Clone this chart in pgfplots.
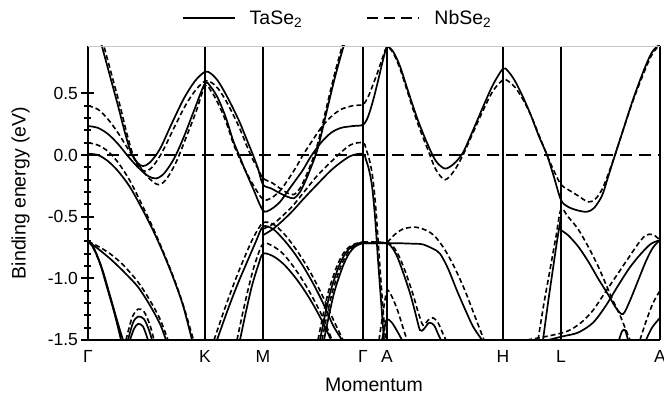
\documentclass[border=0pt]{standalone}
\usepackage{fontspec}
\setmainfont{Liberation Sans}
\usepackage{pgfplots}
\pgfplotsset{compat=1.18}
\pgfplotsset{
  ta/.style={black, line width=1.7pt, smooth, tension=0.5},
  nb/.style={black, line width=1.6pt, smooth, tension=0.5, dash pattern=on 5pt off 3pt},
}
\begin{document}
\begin{tikzpicture}[font=\fontsize{17.5}{20}\selectfont]
\useasboundingbox (0,0) rectangle (664pt,401pt);
\begin{axis}[
  at={(88pt,61pt)}, anchor=south west,
  width=572pt, height=294pt, scale only axis,
  xmin=0, xmax=572, ymin=-1.5, ymax=0.884,
  axis x line*=bottom, axis y line*=left,
  axis line style={-, black, line width=2.2pt},
  xtick={0,117,175,275,299,415,473,572},
  xticklabels={Γ,K,M,Γ,A,H,L,A},
  xtick style={draw=none},
  xmajorgrids, grid style={black, line width=2pt},
  ytick={-1.5,-1,-0.5,0,0.5},
  yticklabels={-1.5,-1.0,-0.5,0.0,0.5},
  minor y tick num=4,
  tick align=center,
  major tick length=13pt, minor tick length=7pt,
  ytick style={black, line width=2pt},
  ylabel={Binding energy (eV)},
  xlabel={Momentum},
  every axis y label/.style={at={(axis description cs:-0.118,0.5)}, rotate=90, anchor=center, font=\fontsize{19.5}{22}\selectfont},
  every axis x label/.style={at={(axis description cs:0.5,-0.153)}, anchor=center, font=\fontsize{19.5}{22}\selectfont},
  legend columns=2,
  legend style={at={(0.436,1)}, anchor=center, yshift=28pt, draw=none, fill=none,
    font=\fontsize{19.5}{22}\selectfont,
    /tikz/every odd column/.append style={column sep=12pt},
    /tikz/every even column/.append style={column sep=62pt}},
  legend image code/.code={\draw[#1] (0pt,0pt) -- (52pt,0pt);},
]
\addlegendimage{black, line width=2.2pt}
\addlegendentry{TaSe\textsubscript{2}}
\addlegendimage{black, line width=2.2pt, dash pattern=on 10.5pt off 6.5pt}
\addlegendentry{NbSe\textsubscript{2}}

% Fermi level
\addplot[black, line width=2.4pt, dash pattern=on 12pt off 7pt] coordinates {(0,0) (572,0)};

% ---- upper bands ----
% steep Se band Gamma-K-M-Gamma
\addplot[ta] coordinates {(8,1.06)(14,0.88)(22,0.64)(30,0.40)(37,0.18)(43,0.02)(49,-0.06)(55,-0.09)(62,-0.06)(72,0.05)(84,0.26)(96,0.46)(107,0.6)(117,0.675)(123,0.66)(130,0.6)(138,0.49)(145,0.38)(152,0.26)(159,0.12)(165,0.0)(170,-0.11)(175,-0.24)(183,-0.27)(192,-0.31)(200,-0.34)(206,-0.35)(212,-0.3)(218,-0.2)(224,-0.08)(230,0.06)(238,0.33)(246,0.6)(252,0.78)(257,0.92)};
\addplot[nb] coordinates {(10,1.06)(16,0.88)(24,0.64)(32,0.40)(39,0.17)(45,0.0)(51,-0.1)(57,-0.13)(64,-0.1)(74,0.02)(86,0.22)(98,0.41)(108,0.53)(117,0.6)(123,0.59)(130,0.54)(138,0.44)(145,0.33)(152,0.21)(159,0.07)(165,-0.04)(170,-0.11)(175,-0.19)(183,-0.22)(192,-0.27)(200,-0.31)(206,-0.32)(212,-0.27)(218,-0.17)(224,-0.05)(230,0.1)(238,0.37)(246,0.64)(252,0.82)(256,0.94)};

% d band, full path
\addplot[ta] coordinates {(0,0.235)(10,0.22)(20,0.17)(30,0.09)(40,-0.01)(50,-0.1)(60,-0.17)(68,-0.19)(76,-0.15)(86,-0.03)(96,0.15)(106,0.36)(117,0.58)(123,0.55)(130,0.46)(138,0.3)(145,0.12)(150,0.02)(157,-0.12)(165,-0.27)(175,-0.45)(183,-0.44)(192,-0.38)(200,-0.29)(208,-0.2)(215,-0.12)(223,-0.01)(233,0.1)(243,0.18)(253,0.22)(265,0.235)(275,0.245)(280,0.31)(285,0.44)(290,0.6)(295,0.77)(299,0.875)(305,0.84)(312,0.72)(320,0.52)(330,0.28)(340,0.08)(348,-0.05)(357,-0.11)(366,-0.07)(375,0.02)(385,0.2)(395,0.39)(405,0.57)(415,0.70)(420,0.68)(427,0.6)(435,0.47)(443,0.32)(451,0.15)(459,0.0)(466,-0.18)(473,-0.365)(480,-0.42)(490,-0.45)(499,-0.46)(506,-0.43)(514,-0.33)(520,-0.18)(527,0.0)(535,0.2)(545,0.45)(555,0.67)(563,0.82)(569,0.88)(572,0.89)};
\addplot[nb] coordinates {(0,0.40)(10,0.37)(20,0.29)(30,0.18)(40,0.05)(50,-0.07)(60,-0.18)(70,-0.24)(78,-0.2)(88,-0.06)(98,0.14)(108,0.35)(117,0.56)(123,0.52)(130,0.42)(138,0.27)(145,0.1)(150,0.0)(157,-0.12)(165,-0.24)(175,-0.36)(183,-0.35)(192,-0.29)(200,-0.2)(208,-0.1)(215,0.0)(223,0.1)(233,0.22)(243,0.31)(253,0.37)(265,0.40)(275,0.41)(280,0.47)(285,0.57)(290,0.68)(295,0.80)(299,0.875)(305,0.83)(312,0.7)(320,0.5)(330,0.25)(340,0.04)(348,-0.12)(357,-0.2)(366,-0.13)(375,0.0)(385,0.18)(395,0.36)(405,0.52)(415,0.61)(420,0.6)(427,0.55)(435,0.45)(443,0.32)(451,0.16)(459,0.0)(466,-0.13)(473,-0.24)(480,-0.28)(490,-0.33)(500,-0.38)(507,-0.36)(514,-0.28)(520,-0.16)(527,0.0)(535,0.2)(545,0.44)(555,0.65)(563,0.8)(569,0.87)(572,0.88)};

% second d band
\addplot[ta] coordinates {(0,0.01)(10,0.0)(20,-0.05)(30,-0.13)(42,-0.26)(55,-0.45)(65,-0.61)(75,-0.79)(85,-0.99)(95,-1.22)(104,-1.5)};
\addplot[nb] coordinates {(0,0.10)(10,0.08)(20,0.03)(30,-0.06)(42,-0.21)(55,-0.42)(65,-0.59)(75,-0.78)(85,-0.98)(95,-1.21)(105.5,-1.5)};
\addplot[ta] coordinates {(175,-0.65)(185,-0.6)(195,-0.53)(205,-0.45)(215,-0.36)(229,-0.24)(245,-0.11)(262,-0.01)(275,0.01)(278,-0.04)(281,-0.12)(284,-0.25)(287,-0.5)(290,-0.85)(293,-1.18)(296,-1.5)};
\addplot[nb] coordinates {(175,-0.6)(185,-0.56)(195,-0.49)(205,-0.41)(215,-0.31)(229,-0.17)(245,-0.04)(262,0.08)(275,0.10)(278,0.05)(282,-0.06)(285,-0.2)(288,-0.45)(291,-0.8)(294,-1.14)(297.5,-1.5)};

% ---- lower bands, Gamma-K ----
\addplot[ta] coordinates {(0,-0.70)(10,-0.76)(22,-0.84)(35,-0.94)(50,-1.07)(62,-1.22)(72,-1.37)(78,-1.5)};
\addplot[nb] coordinates {(0,-0.70)(10,-0.74)(22,-0.80)(35,-0.89)(50,-1.03)(62,-1.18)(72,-1.33)(80,-1.5)};
\addplot[ta] coordinates {(0,-0.70)(5,-0.74)(12,-0.88)(20,-1.1)(27,-1.3)(33,-1.5)};
\addplot[ta] coordinates {(0,-0.70)(6,-0.76)(14,-0.92)(22,-1.14)(29,-1.34)(35,-1.5)};
\addplot[nb] coordinates {(0,-0.70)(5,-0.75)(13,-0.9)(21,-1.12)(28,-1.32)(34,-1.5)};
\addplot[nb] coordinates {(38,-1.5)(44,-1.32)(50,-1.25)(56,-1.27)(62,-1.38)(66,-1.5)};
\addplot[ta] coordinates {(40,-1.5)(45,-1.36)(50,-1.31)(56,-1.33)(61,-1.42)(64,-1.5)};
\addplot[ta] coordinates {(42,-1.5)(46,-1.41)(50,-1.37)(55,-1.39)(60,-1.5)};

% ---- lower bands, K-M-Gamma ----
\addplot[ta] coordinates {(129,-1.5)(140,-1.25)(150,-1.04)(160,-0.85)(168,-0.7)(175,-0.58)(185,-0.6)(195,-0.68)(205,-0.78)(215,-0.9)(225,-1.04)(235,-1.2)(245,-1.38)(254,-1.5)};
\addplot[nb] coordinates {(126,-1.5)(137,-1.24)(147,-1.02)(157,-0.82)(166,-0.66)(175,-0.55)(185,-0.56)(195,-0.63)(205,-0.73)(215,-0.85)(225,-0.99)(235,-1.15)(245,-1.33)(255,-1.5)};
\addplot[ta] coordinates {(152,-1.5)(158,-1.27)(164,-1.06)(170,-0.9)(175,-0.8)(185,-0.82)(195,-0.88)(205,-0.97)(215,-1.08)(225,-1.21)(235,-1.36)(243,-1.5)};
\addplot[nb] coordinates {(149,-1.5)(155,-1.27)(161,-1.06)(167,-0.88)(175,-0.72)(185,-0.74)(195,-0.8)(205,-0.9)(215,-1.02)(225,-1.16)(235,-1.32)(244,-1.5)};
\addplot[ta] coordinates {(232,-1.5)(237,-1.3)(242,-1.12)(247,-0.99)(252,-0.88)(258,-0.79)(264,-0.74)(270,-0.72)(275,-0.715)};
\addplot[ta] coordinates {(236,-1.5)(241,-1.3)(246,-1.12)(251,-0.99)(256,-0.88)(261,-0.8)(266,-0.75)(271,-0.725)(275,-0.715)};
\addplot[nb] coordinates {(230,-1.5)(235,-1.3)(240,-1.12)(245,-0.99)(250,-0.88)(256,-0.79)(262,-0.74)(269,-0.715)(275,-0.705)};
\addplot[nb] coordinates {(234,-1.5)(239,-1.3)(244,-1.12)(249,-0.99)(254,-0.88)(260,-0.79)(266,-0.74)(271,-0.715)(275,-0.705)};

% ---- lower bands, Gamma-A-H ----
\addplot[ta] coordinates {(275,-0.715)(287,-0.715)(299,-0.715)(310,-0.715)(320,-0.718)(328,-0.72)(335,-0.725)(345,-0.76)(352,-0.80)(360,-0.92)(369,-1.1)(377,-1.25)(385,-1.39)(394,-1.5)};
\addplot[nb] coordinates {(275,-0.705)(287,-0.705)(299,-0.705)(306,-0.65)(315,-0.6)(327,-0.585)(338,-0.61)(347,-0.66)(357,-0.77)(367,-0.92)(377,-1.1)(387,-1.31)(396,-1.5)};
\addplot[ta] coordinates {(275,-0.715)(287,-0.715)(299,-0.715)(304,-0.75)(309,-0.82)(315,-0.95)(322,-1.12)(327,-1.27)(332,-1.42)(336,-1.41)(341,-1.36)(346,-1.38)(350,-1.45)(353,-1.5)};
\addplot[nb] coordinates {(299,-0.705)(305,-0.74)(311,-0.82)(318,-0.96)(325,-1.13)(330,-1.27)(335,-1.38)(340,-1.34)(345,-1.32)(350,-1.36)(355,-1.45)(358,-1.5)};
\addplot[nb] coordinates {(291,-1.5)(295,-1.28)(299,-1.1)(304,-1.15)(310,-1.27)(315,-1.4)(319,-1.5)};
\addplot[ta] coordinates {(294,-1.5)(297,-1.38)(299,-1.33)(304,-1.36)(310,-1.44)(314,-1.5)};

% ---- lower bands, H-L-A ----
\addplot[ta] coordinates {(455,-1.5)(460,-1.2)(465,-0.92)(469,-0.7)(473,-0.5)};
\addplot[nb] coordinates {(450,-1.5)(456,-1.2)(462,-0.93)(468,-0.66)(473,-0.44)(480,-0.5)(490,-0.6)(500,-0.74)(510,-0.9)(518,-1.05)(525,-1.18)(532,-1.3)(538,-1.42)(542,-1.5)};
\addplot[ta] coordinates {(473,-0.61)(480,-0.65)(490,-0.74)(500,-0.86)(510,-1.0)(520,-1.13)(528,-1.24)(535,-1.29)(542,-1.18)(550,-1.02)(558,-0.86)(565,-0.75)(572,-0.69)};
\addplot[ta] coordinates {(460,-1.5)(475,-1.47)(490,-1.44)(505,-1.36)(518,-1.22)(530,-1.06)(542,-0.91)(553,-0.8)(563,-0.72)(572,-0.69)};
\addplot[nb] coordinates {(439,-1.5)(459,-1.47)(479,-1.43)(493,-1.36)(505,-1.26)(515,-1.14)(525,-1.02)(535,-0.9)(545,-0.78)(552,-0.7)(558,-0.65)(565,-0.645)(572,-0.69)};
\addplot[ta] coordinates {(531,-1.5)(534,-1.43)(537,-1.42)(540,-1.5)};
\addplot[nb] coordinates {(552,-1.5)(558,-1.35)(565,-1.2)(572,-1.1)};
\addplot[ta] coordinates {(558,-1.5)(564,-1.4)(572,-1.32)};

\end{axis}
\draw[gray!45, line width=0.8pt] (88pt,355pt) -- (660pt,355pt);
\end{tikzpicture}
\end{document}
